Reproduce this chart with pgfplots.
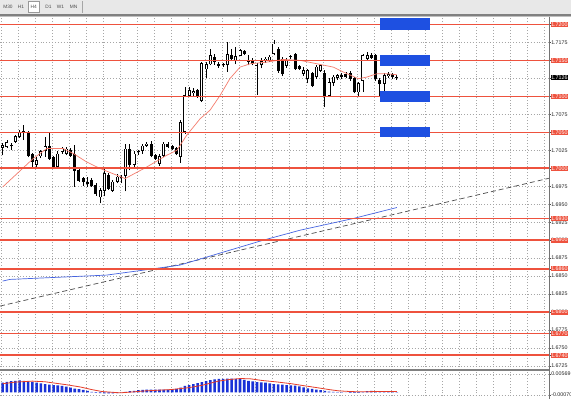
\documentclass[border=0pt]{standalone}
\usepackage{fontspec}
\setmainfont{Liberation Sans}
\usepackage{pgfplots}
\pgfplotsset{compat=1.18}
\usepackage{pgfplotstable}
\definecolor{levelred}{RGB}{238,82,62}
\definecolor{maRed}{RGB}{245,125,110}
\definecolor{maBlue}{RGB}{70,100,225}
\definecolor{rectBlue}{RGB}{30,80,225}
\definecolor{macdBlue}{RGB}{25,50,215}
\definecolor{sigRed}{RGB}{230,60,40}
\newcommand{\tk}{\fontsize{5.3}{6}\selectfont}

\pgfplotstableread{
i o h l c
0 1.7029 1.7035 1.7018 1.7032
1 1.7030 1.7039 1.7028 1.7036
2 1.7031 1.7035 1.7026 1.7032
3 1.7037 1.7046 1.7035 1.7044
4 1.7044 1.7053 1.7042 1.7050
5 1.7050 1.7060 1.7039 1.7051
6 1.7050 1.7052 1.7015 1.7018
7 1.7019 1.7021 1.7002 1.7009
8 1.7005 1.7016 1.7002 1.7011
9 1.7017 1.7026 1.7014 1.7023
10 1.7025 1.7044 1.7016 1.7030
11 1.7030 1.7050 1.7012 1.7013
12 1.7015 1.7017 1.7000 1.7002
13 1.7002 1.7024 1.7001 1.7020
14 1.7023 1.7030 1.7020 1.7027
15 1.7020 1.7030 1.7018 1.7027
16 1.7025 1.7028 1.7016 1.7018
17 1.7020 1.7033 1.6974 1.6997
18 1.6997 1.6999 1.6981 1.6983
19 1.6986 1.6988 1.6976 1.6981
20 1.6980 1.6988 1.6974 1.6978
21 1.6983 1.6986 1.6974 1.6976
22 1.6976 1.6979 1.6962 1.6965
23 1.6960 1.6972 1.6951 1.6969
24 1.6969 1.7002 1.6961 1.6993
25 1.6990 1.6993 1.6970 1.6972
26 1.6969 1.6984 1.6967 1.6981
27 1.6981 1.6992 1.6979 1.6988
28 1.6988 1.6990 1.6979 1.6988
29 1.6990 1.7034 1.6968 1.7027
30 1.7027 1.7034 1.6997 1.7005
31 1.7005 1.7024 1.7002 1.7020
32 1.7023 1.7026 1.7019 1.7024
33 1.7025 1.7034 1.7020 1.7031
34 1.7032 1.7036 1.7030 1.7034
35 1.7034 1.7038 1.7015 1.7018
36 1.7018 1.7020 1.7012 1.7013
37 1.7007 1.7020 1.7003 1.7016
38 1.7018 1.7037 1.7016 1.7034
39 1.7034 1.7036 1.7028 1.7030
40 1.7031 1.7033 1.7025 1.7027
41 1.7028 1.7030 1.7018 1.7020
42 1.7016 1.7067 1.7007 1.7064
43 1.7051 1.7113 1.7048 1.7101
44 1.7101 1.7113 1.7099 1.7108
45 1.7105 1.7112 1.7100 1.7107
46 1.7108 1.7110 1.7098 1.7100
47 1.7094 1.7148 1.7092 1.7146
48 1.7138 1.7148 1.7125 1.7145
49 1.7145 1.7166 1.7143 1.7157
50 1.7155 1.7159 1.7144 1.7148
51 1.7145 1.7148 1.7140 1.7143
52 1.7144 1.7147 1.7141 1.7144
53 1.7144 1.7175 1.7134 1.7158
54 1.7157 1.7166 1.7150 1.7152
55 1.7150 1.7169 1.7145 1.7156
56 1.7157 1.7166 1.7156 1.7164
57 1.7163 1.7165 1.7158 1.7160
58 1.7150 1.7157 1.7143 1.7148
59 1.7150 1.7153 1.7143 1.7145
60 1.7143 1.7147 1.7102 1.7143
61 1.7144 1.7153 1.7139 1.7149
62 1.7149 1.7155 1.7147 1.7152
63 1.7150 1.7158 1.7148 1.7155
64 1.7159 1.7178 1.7157 1.7173
65 1.7166 1.7168 1.7133 1.7136
66 1.7152 1.7155 1.7128 1.7131
67 1.7143 1.7153 1.7140 1.7150
68 1.7155 1.7158 1.7152 1.7156
69 1.7159 1.7161 1.7137 1.7138
70 1.7142 1.7144 1.7137 1.7139
71 1.7132 1.7141 1.7129 1.7136
72 1.7125 1.7138 1.7118 1.7136
73 1.7132 1.7134 1.7113 1.7115
74 1.7127 1.7143 1.7124 1.7141
75 1.7136 1.7145 1.7134 1.7143
76 1.7132 1.7136 1.7085 1.7101
77 1.7101 1.7125 1.7099 1.7120
78 1.7119 1.7130 1.7115 1.7127
79 1.7126 1.7131 1.7123 1.7129
80 1.7129 1.7132 1.7124 1.7127
81 1.7131 1.7134 1.7125 1.7127
82 1.7132 1.7135 1.7122 1.7125
83 1.7125 1.7127 1.7104 1.7106
84 1.7106 1.7120 1.7099 1.7118
85 1.7122 1.7159 1.7106 1.7157
86 1.7152 1.7162 1.7150 1.7157
87 1.7157 1.7160 1.7152 1.7154
88 1.7157 1.7159 1.7122 1.7125
89 1.7122 1.7125 1.7101 1.7118
90 1.7118 1.7132 1.7106 1.7129
91 1.7129 1.7134 1.7126 1.7131
92 1.7131 1.7133 1.7124 1.7127
93 1.7127 1.7130 1.7123 1.7126
}\candles

\pgfplotstableread{
i v
0 0.0030
1 0.0033
2 0.0035
3 0.0036
4 0.0037
5 0.0036
6 0.0034
7 0.0032
8 0.0030
9 0.0028
10 0.0026
11 0.0024
12 0.0023
13 0.0022
14 0.0020
15 0.0018
16 0.0015
17 0.0012
18 0.0010
19 0.0008
20 0.0005
21 0.0002
22 -0.0001
23 -0.0002
24 -0.0003
25 -0.0003
26 -0.0003
27 -0.0002
28 0.0000
29 0.0002
30 0.0004
31 0.0005
32 0.0007
33 0.0008
34 0.0009
35 0.0009
36 0.0009
37 0.0009
38 0.0009
39 0.0009
40 0.0010
41 0.0011
42 0.0015
43 0.0020
44 0.0023
45 0.0026
46 0.0029
47 0.0032
48 0.0035
49 0.0038
50 0.0040
51 0.0042
52 0.0042
53 0.0043
54 0.0043
55 0.0042
56 0.0041
57 0.0039
58 0.0036
59 0.0034
60 0.0032
61 0.0031
62 0.0030
63 0.0028
64 0.0026
65 0.0025
66 0.0024
67 0.0023
68 0.0022
69 0.0021
70 0.0019
71 0.0016
72 0.0013
73 0.0011
74 0.0009
75 0.0007
76 0.0005
77 0.0003
78 0.0002
79 0.0001
80 0.0001
81 0.0000
82 -0.0001
83 -0.0001
84 -0.0001
85 0.0001
86 0.0004
87 0.0005
88 0.0003
89 0.0002
90 0.0002
91 0.0001
92 0.0001
93 0.0001
}\macd

\pgfplotsset{
  mtgrid/.style={
    scale only axis, width=549pt,
    xmin=-0.637, xmax=128.9,
    axis line style={draw=none},
    xtick={-0.3,3.7,...,127.7}, xticklabels={}, xtick style={draw=none},
    grid=major,
    major grid style={black!35, dash pattern=on 0.7pt off 2.2pt, line width=0.5pt},
    ytick pos=right, yticklabel pos=right,
    tick align=outside, major tick length=1.5pt,
    ytick style={black!70, line width=0.4pt},
    ticklabel style={font=\tk, text=black!85},
    yticklabel style={inner sep=0.6pt},
    scaled y ticks=false,
    /pgf/number format/assume math mode=true,
  }
}

\begin{document}
\begin{tikzpicture}
\useasboundingbox (0pt,0pt) rectangle (571pt,-399pt);
\fill[white] (0pt,0pt) rectangle (571pt,-399pt);
% toolbar
\fill[black!9] (0pt,0pt) rectangle (571pt,-14.3pt);
\filldraw[fill=white, draw=black!40, line width=0.5pt] (28pt,-1.5pt) rectangle (39.5pt,-12.5pt);
\draw[black!35, line width=0.5pt] (82pt,-1pt) -- (82pt,-13pt);
\begin{scope}[every node/.style={font=\fontsize{4.8}{6}\selectfont, text=black!70, inner sep=0pt}]
\node at (8pt,-7.2pt) {M30};
\node at (21pt,-7.2pt) {H1};
\node at (33.8pt,-7.2pt) {H4};
\node at (48.5pt,-7.2pt) {D1};
\node at (60.5pt,-7.2pt) {W1};
\node at (73.5pt,-7.2pt) {MN};
\end{scope}
\fill[black!50] (0pt,-14.3pt) rectangle (571pt,-15.6pt);
\draw[black!25, line width=0.6pt] (0pt,-16.2pt) -- (571pt,-16.2pt);

\begin{axis}[mtgrid,
  at={(0pt,-16.5pt)}, anchor=north west, height=353.5pt,
  ymin=1.67194, ymax=1.72111,
  ytick={1.6725,1.675,1.6775,1.68,1.6825,1.685,1.6875,1.69,1.6925,1.695,1.6975,1.7,1.7025,1.705,1.7075,1.71,1.7125,1.715,1.7175,1.72},
  yticklabel style={/pgf/number format/fixed, /pgf/number format/fixed zerofill, /pgf/number format/precision=4},
  extra y ticks={1.7200,1.7150,1.7100,1.7050,1.7000,1.6930,1.6900,1.6860,1.6800,1.6770,1.6740},
  extra y tick labels={1.7200,1.7150,1.7100,1.7050,1.7000,1.6930,1.6900,1.6860,1.6800,1.6770,1.6740},
  extra y tick style={grid=none, tick label style={fill=levelred, text=white, inner sep=0.6pt}},
]
% trend line
\addplot[black!70, line width=0.7pt, dash pattern=on 5pt off 3pt] coordinates {(-0.64,1.68083) (128.9,1.69861)};
% long MA
\addplot[maBlue, line width=0.7pt] coordinates {(0,1.68431) (1.7,1.68454) (24.5,1.68514) (33.2,1.68583) (41.8,1.68653) (53.6,1.68861) (61.5,1.69000) (70.2,1.69139) (82.7,1.69301) (93,1.69454)};
% candles: wicks
\addplot[black, line width=0.8pt, quiver={u=0, v=\thisrow{h}-\thisrow{l}}]
  table[x=i, y=l] {\candles};
% bodies outline
\addplot[black, line width=3pt, quiver={u=0, v={abs(\thisrow{c}-\thisrow{o})+0.00008}}]
  table[x=i, y expr={min(\thisrow{o},\thisrow{c})-0.00004}] {\candles};
% bull bodies interior
\addplot[white, line width=1.2pt, quiver={u=0, v={max(\thisrow{c}-\thisrow{o}-0.00014,0)}}]
  table[x=i, y expr={\thisrow{o}+0.00007}] {\candles};
% short MA
\addplot[maRed, line width=0.7pt] coordinates {(0,1.69740) (7.2,1.70135) (10.4,1.70274) (14.3,1.70274) (16.7,1.70204) (19.8,1.70088) (23,1.69996) (28.9,1.69857) (34,1.70018) (38.7,1.70181) (41.1,1.70250) (43.4,1.70458) (46.6,1.70690) (48.9,1.70806) (51.3,1.71014) (53.6,1.71246) (56,1.71407) (58.4,1.71454) (62.3,1.71476) (66.2,1.71514) (70.2,1.71500) (74.1,1.71454) (78,1.71407) (80.4,1.71338) (83.9,1.71246) (85.9,1.71268) (88.3,1.71315) (90.6,1.71315) (93,1.71301)};
% horizontal levels
\pgfplotsinvokeforeach{1.7200,1.7150,1.7100,1.7050,1.7000,1.6930,1.6900,1.6860,1.6800,1.6770,1.6740}{
  \addplot[levelred, line width=1.6pt] coordinates {(-1,#1) (130,#1)};
}
% zones
\addplot[fill=rectBlue, draw=none] coordinates {(89.05,1.7192) (100.85,1.7192) (100.85,1.7209) (89.05,1.7209)} --cycle;
\addplot[fill=rectBlue, draw=none] coordinates {(89.05,1.7142) (100.85,1.7142) (100.85,1.7158) (89.05,1.7158)} --cycle;
\addplot[fill=rectBlue, draw=none] coordinates {(89.05,1.7092) (100.85,1.7092) (100.85,1.7108) (89.05,1.7108)} --cycle;
\addplot[fill=rectBlue, draw=none] coordinates {(89.05,1.7043) (100.85,1.7043) (100.85,1.7058) (89.05,1.7058)} --cycle;
\coordinate (cp) at (axis cs:128.9,1.7126);
\end{axis}
\node[fill=black, text=white, inner sep=0.6pt, anchor=west, font=\tk, xshift=1.5pt] at (cp) {1.7126};

% separator
\fill[black!50] (0pt,-368.6pt) rectangle (549pt,-371pt);

\begin{axis}[mtgrid,
  at={(0pt,-371pt)}, anchor=north west, height=25pt,
  ymin=-0.00108, ymax=0.00661,
  ytick={-0.0007,0.00569}, yticklabels={-0.00070,0.00569},
]
\addplot[ybar, bar width=2.6pt, fill=macdBlue, draw=none] table[x=i, y=v] {\macd};
\addplot[sigRed, line width=0.8pt] coordinates {(0,0.0027) (3,0.0032) (7,0.0035) (10,0.0033) (12.2,0.0029) (15,0.0024) (18.3,0.0017) (21,0.0009) (23.4,0.0003) (27.7,-0.0001) (30,0.0001) (33.7,0.0005) (39.7,0.0009) (44,0.0015) (47,0.0022) (50.9,0.0035) (53.5,0.0040) (56.1,0.0043) (58.5,0.0042) (61.2,0.0037) (65,0.0032) (68.1,0.0027) (71,0.0021) (74.1,0.0015) (77,0.0009) (79.3,0.0005) (82,0.0003) (84.4,0.0002) (88,0.0003) (93,0.0003)};
\end{axis}
% right border
\draw[black!55, line width=0.9pt] (549pt,-16.5pt) -- (549pt,-399pt);
\end{tikzpicture}
\end{document}
